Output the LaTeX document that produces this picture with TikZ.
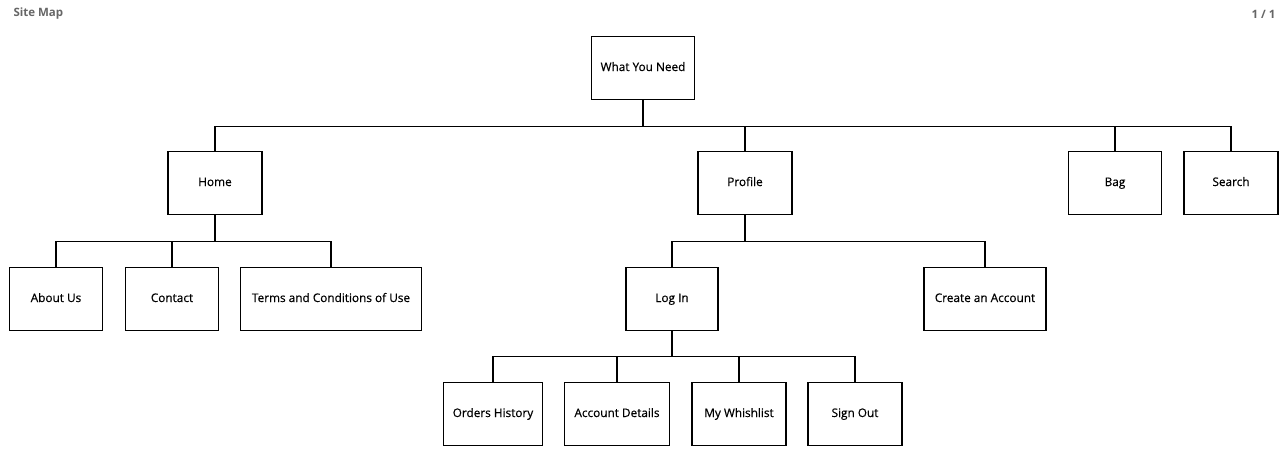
\documentclass[tikz,border=0pt]{standalone}
\usepackage{fontspec}
\setmainfont{Open Sans}
\newfontfamily\boxfont{Open Sans}[FakeBold=0.5]
\usepackage{xcolor}
\usepackage{tikz}

\definecolor{headgray}{RGB}{102,102,102}

\begin{document}
\begin{tikzpicture}[x=1pt,y=-1pt,
		box/.style={draw,line width=1.8pt,fill=white,minimum height=63pt,inner sep=0pt,text height=8.5pt,text depth=2.5pt,font=\boxfont\fontsize{11.8}{13}\selectfont},
		link/.style={line width=1.4pt}]
		\useasboundingbox[fill=white] (0,0) rectangle (1283,452);
		
		\node[anchor=west,text=headgray,font=\fontsize{11.5}{13}\selectfont\bfseries] (title) at (10,14) {Site Map};
		\node[anchor=east,text=headgray,font=\fontsize{11.5}{13}\selectfont\bfseries] (page) at (1279,14) {1 / 1};
		
		% top level
		\node[box,minimum width=103pt] (need) at (643,68) {What You Need};
		
		\node[box,minimum width=94pt] (home) at (215,183) {Home};
		\node[box,minimum width=94pt] (profile) at (745,183) {Profile};
		\node[box,minimum width=93pt] (bag) at (1115,183) {Bag};
		\node[box,minimum width=94pt] (search) at (1231,183) {Search};
		
		% under home
		\node[box,minimum width=93pt] (about) at (56,299) {About Us};
		\node[box,minimum width=93pt] (contact) at (172,299) {Contact};
		\node[box,minimum width=181pt] (terms) at (331,299) {Terms and Conditions of Use};
		
		% under profile
		\node[box,minimum width=92pt] (login) at (672,299) {Log In};
		\node[box,minimum width=122pt] (create) at (985,299) {Create an Account};
		
		% under log in
		\node[box,minimum width=99pt] (orders) at (493,414) {Orders History};
		\node[box,minimum width=105pt] (account) at (617,414) {Account Details};
		\node[box,minimum width=94pt] (wish) at (739,414) {My Whishlist};
		\node[box,minimum width=94pt] (signout) at (855,414) {Sign Out};
		
		\draw[link] (need.south) -- ++(0,26) coordinate (busa);
		\foreach \c in {home,profile,bag,search}{
			\draw[link] (busa) -| (\c.north);
		}
		
		\draw[link] (home.south) -- ++(0,26) coordinate (busb);
		\foreach \c in {about,contact,terms}{
			\draw[link] (busb) -| (\c.north);
		}
		
		\draw[link] (profile.south) -- ++(0,26) coordinate (busc);
		\foreach \c in {login,create}{
			\draw[link] (busc) -| (\c.north);
		}
		
		\draw[link] (login.south) -- ++(0,25) coordinate (busd);
		\foreach \c in {orders,account,wish,signout}{
			\draw[link] (busd) -| (\c.north);
		}
	\end{tikzpicture}
\end{document}
